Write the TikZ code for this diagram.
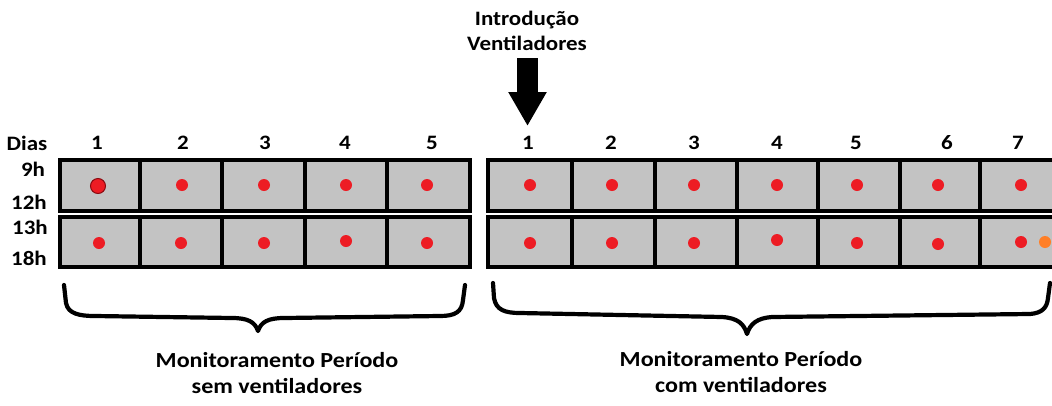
\documentclass[tikz,border=0pt]{standalone}
\usepackage{fontspec}
\setmainfont{Carlito}[FakeStretch=1.12]
\usetikzlibrary{arrows.meta}
\definecolor{cellgray}{HTML}{C3C3C3}
\definecolor{dotred}{HTML}{ED1C24}
\definecolor{dotorange}{HTML}{FF7F27}
\definecolor{darkred}{HTML}{8B0A10}
\tikzset{
  cellbox/.style={draw=black, fill=cellgray, line width=3.6pt, inner sep=0pt},
  reddot/.style={circle, fill=dotred, minimum size=12pt, inner sep=0pt},
  lbl/.style={font=\fontsize{20.5}{24}\selectfont\bfseries, inner sep=0pt},
  titletxt/.style={font=\fontsize{20.5}{25}\selectfont\bfseries, inner sep=0pt, align=center},
  captxt/.style={font=\fontsize{21.5}{26.5}\selectfont\bfseries, inner sep=0pt, align=center},
  bracepath/.style={draw=black, line width=4.2pt, line cap=round, line join=round},
}
\begin{document}
\begin{tikzpicture}[x=1pt, y=-1pt]
\useasboundingbox (0,0) rectangle (1052,405);
\clip (0,0) rectangle (1052,405);
% ---- left grid ----
\foreach \i/\a/\b in {1/60/140, 2/140/222, 3/222/305, 4/305/387, 5/387/470}{
  \pgfmathsetmacro\w{\b-\a}
  \pgfmathsetmacro\c{(\a+\b)/2}
  \node[cellbox, minimum width=\w pt, minimum height=51pt] (L\i a) at (\c,185.5) {};
  \node[cellbox, minimum width=\w pt, minimum height=50pt] (L\i b) at (\c,242) {};
}
% ---- right grid ----
\foreach \i/\a/\b in {1/488/572, 2/572/655, 3/655/737, 4/737/818, 5/818/900, 6/900/980, 7/980/1064}{
  \pgfmathsetmacro\w{\b-\a}
  \pgfmathsetmacro\c{(\a+\b)/2}
  \node[cellbox, minimum width=\w pt, minimum height=51pt] (R\i a) at (\c,185.5) {};
  \node[cellbox, minimum width=\w pt, minimum height=50pt] (R\i b) at (\c,242) {};
}
% ---- dots ----
\node[circle, fill=dotred, draw=darkred, line width=1pt, minimum size=15pt, inner sep=0pt] (d1a) at (98,186) {};
\node[reddot] (d2a) at (182,185) {};
\node[reddot] (d3a) at (264,185) {};
\node[reddot] (d4a) at (346,185) {};
\node[reddot] (d5a) at (427,185) {};
\node[reddot] (d1b) at (99,243) {};
\node[reddot] (d2b) at (181,243) {};
\node[reddot] (d3b) at (264,243) {};
\node[reddot] (d4b) at (346,241) {};
\node[reddot] (d5b) at (427,243) {};
\node[reddot] (e1a) at (530,185) {};
\node[reddot] (e2a) at (612,185) {};
\node[reddot] (e3a) at (694,185) {};
\node[reddot] (e4a) at (777,185) {};
\node[reddot] (e5a) at (857,185) {};
\node[reddot] (e6a) at (938,185) {};
\node[reddot] (e7a) at (1021,185) {};
\node[reddot] (e1b) at (530,243) {};
\node[reddot] (e2b) at (612,243) {};
\node[reddot] (e3b) at (694,243) {};
\node[reddot] (e4b) at (777,240) {};
\node[reddot] (e5b) at (857,243) {};
\node[reddot] (e6b) at (938,244) {};
\node[reddot] (e7b) at (1021,242) {};
\node[circle, fill=dotorange, minimum size=12pt, inner sep=0pt] (e7o) at (1045,242) {};
% ---- labels ----
\node[lbl] (dias) at (27,143) {Dias};
\node[lbl] (h9) at (33,169) {9h};
\node[lbl] (h12) at (29,202) {12h};
\node[lbl] (h13) at (30,227) {13h};
\node[lbl] (h18) at (29,258) {18h};
\node[lbl] (n1) at (97,143) {1};
\node[lbl] (n2) at (183,143) {2};
\node[lbl] (n3) at (265,143) {3};
\node[lbl] (n4) at (345,143) {4};
\node[lbl] (n5) at (432,143) {5};
\node[lbl] (m1) at (528,143) {1};
\node[lbl] (m2) at (611,143) {2};
\node[lbl] (m3) at (694,143) {3};
\node[lbl] (m4) at (777,143) {4};
\node[lbl] (m5) at (856,143) {5};
\node[lbl] (m6) at (947,143) {6};
\node[lbl] (m7) at (1018,143) {7};
% ---- title and arrow ----
\node[titletxt] (title) at (527,31) {Introdução\\Ventiladores};
\coordinate (atop) at (527.5,58);
\coordinate (atip) at (527.5,126);
\draw[line width=21pt, -{Triangle[width=36pt,length=34pt]}] (atop) -- (atip);
% ---- braces ----
\draw[bracepath] (64,285) -- (66,303) .. controls (68,314) and (80,316) .. (95,316)
  -- (232,318) .. controls (248,318) and (255,322) .. (258,331)
  .. controls (261,322) and (268,318) .. (284,318)
  -- (440,316) .. controls (455,316) and (462,312) .. (463,300) -- (465,285);
\draw[bracepath] (493,283) -- (494,298) .. controls (496,310) and (505,313) .. (520,313)
  -- (722,317) .. controls (738,318) and (744,324) .. (747,334)
  .. controls (750,324) and (757,318) .. (772,317)
  -- (1030,314) .. controls (1042,313) and (1047,308) .. (1048,298) -- (1050,283);
% ---- captions ----
\node[captxt] (capL) at (277,373) {Monitoramento Período\\sem ventiladores};
\node[captxt] (capR) at (741,372) {Monitoramento Período\\com ventiladores};
\end{tikzpicture}
\end{document}
